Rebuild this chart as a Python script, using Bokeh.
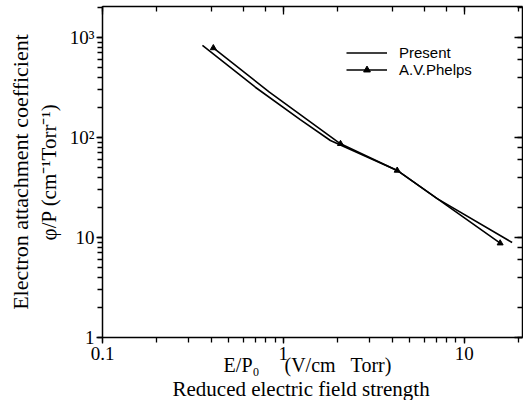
from bokeh.plotting import figure
from bokeh.models import LogAxis, Title, Legend, LegendItem, CustomJSTickFormatter, Range1d
from bokeh.embed import file_html
from bokeh.resources import INLINE

# ---- data ----
present_x = [0.357, 0.70, 1.24, 1.82, 4.26, 7.09, 18.4]
present_y = [832, 318, 151, 93.3, 46.8, 24.5, 8.91]
phelps_x = [0.41, 0.837, 2.07, 4.26, 7.09, 15.8]
phelps_y = [785, 284, 86.5, 46.8, 24.5, 8.77]
phelps_marker_x = [0.41, 2.07, 4.26, 15.8]
phelps_marker_y = [785, 86.5, 46.8, 8.77]
x_tick_labels = ["0.1", "1", "10"]
y_tick_labels = ["1", "10", "10\u00b2", "10\u00b3"]

SERIF = "Liberation Serif"
SANS = "Liberation Sans"
NB = "\u00a0"

p = figure(width=523, height=400, x_axis_type="log", y_axis_type="log",
           x_range=Range1d(0.1, 21), y_range=Range1d(1, 2040),
           output_backend="svg", toolbar_location=None, title=None,
           min_border_left=102, min_border_right=1, min_border_top=6, min_border_bottom=63)
p.grid.visible = False
p.outline_line_color = None
p.background_fill_color = "white"
p.border_fill_color = "white"

r1 = p.line(present_x, present_y, line_color="black", line_width=1.6)
r2 = p.line(phelps_x, phelps_y, line_color="black", line_width=1.6)
r3 = p.scatter(phelps_marker_x, phelps_marker_y, marker="triangle", size=6,
               fill_color="black", line_color="black")

fx = CustomJSTickFormatter(args=dict(labels=x_tick_labels, start=-1), code="""
const k = Math.round(Math.log10(tick)) - start;
return (k >= 0 && k < labels.length) ? labels[k] : "";
""")
fy = CustomJSTickFormatter(args=dict(labels=y_tick_labels, start=0), code="""
const k = Math.round(Math.log10(tick)) - start;
return (k >= 0 && k < labels.length) ? labels[k] : "";
""")
fblank = CustomJSTickFormatter(code='return "";')

for ax in (p.xaxis[0], p.yaxis[0]):
    ax.axis_line_width = 1.5
    ax.major_tick_line_width = 1.3
    ax.minor_tick_line_width = 1.3
    ax.major_tick_in = 0
    ax.major_tick_out = 6
    ax.minor_tick_in = 0
    ax.minor_tick_out = 5
    ax.major_label_text_font = SERIF
    ax.major_label_text_font_size = "19px"
    ax.major_label_text_color = "black"
    ax.axis_label_text_font = SERIF
    ax.axis_label_text_font_style = "normal"
    ax.axis_label_text_color = "black"

p.xaxis[0].formatter = fx
p.yaxis[0].formatter = fy
p.xaxis[0].major_label_standoff = 3
p.yaxis[0].major_label_standoff = 2
p.xaxis[0].axis_label = "E/P\u2080" + NB * 5 + "(V/cm" + NB * 3 + "Torr)" + NB * 2
p.xaxis[0].axis_label_text_font_size = "20px"
p.xaxis[0].axis_label_standoff = -9
p.yaxis[0].axis_label = "\u03c6/P (cm\u207b\u00b9Torr\u207b\u00b9)"
p.yaxis[0].axis_label_text_font_size = "21px"
p.yaxis[0].axis_label_standoff = 6

for side in ("above", "right"):
    ax = LogAxis(formatter=fblank, major_label_text_font_size="1px", major_label_standoff=0,
                 major_tick_in=8, major_tick_out=0, minor_tick_in=5, minor_tick_out=0,
                 axis_line_width=1.5, major_tick_line_width=1.3, minor_tick_line_width=1.3)
    p.add_layout(ax, side)

t_bottom = Title(text="Reduced electric field strength", align="left", offset=70,
                 text_font=SERIF, text_font_size="21px", text_font_style="normal",
                 text_color="black", standoff=-7)
p.add_layout(t_bottom, "below")
t_left = Title(text="Electron attachment coefficient", align="center",
               text_font=SERIF, text_font_size="22px", text_font_style="normal",
               text_color="black", standoff=2)
p.add_layout(t_left, "left")

legend = Legend(items=[LegendItem(label="Present", renderers=[r1]),
                       LegendItem(label="A.V.Phelps", renderers=[r2, r3])],
                location=(244, 259), padding=0, margin=0, spacing=0,
                glyph_width=41, glyph_height=17, label_height=17, label_standoff=12,
                border_line_alpha=0, background_fill_alpha=0,
                label_text_font=SANS, label_text_font_size="15px", label_text_color="black")
p.add_layout(legend)

open("out.html", "w").write(file_html(p, INLINE))
